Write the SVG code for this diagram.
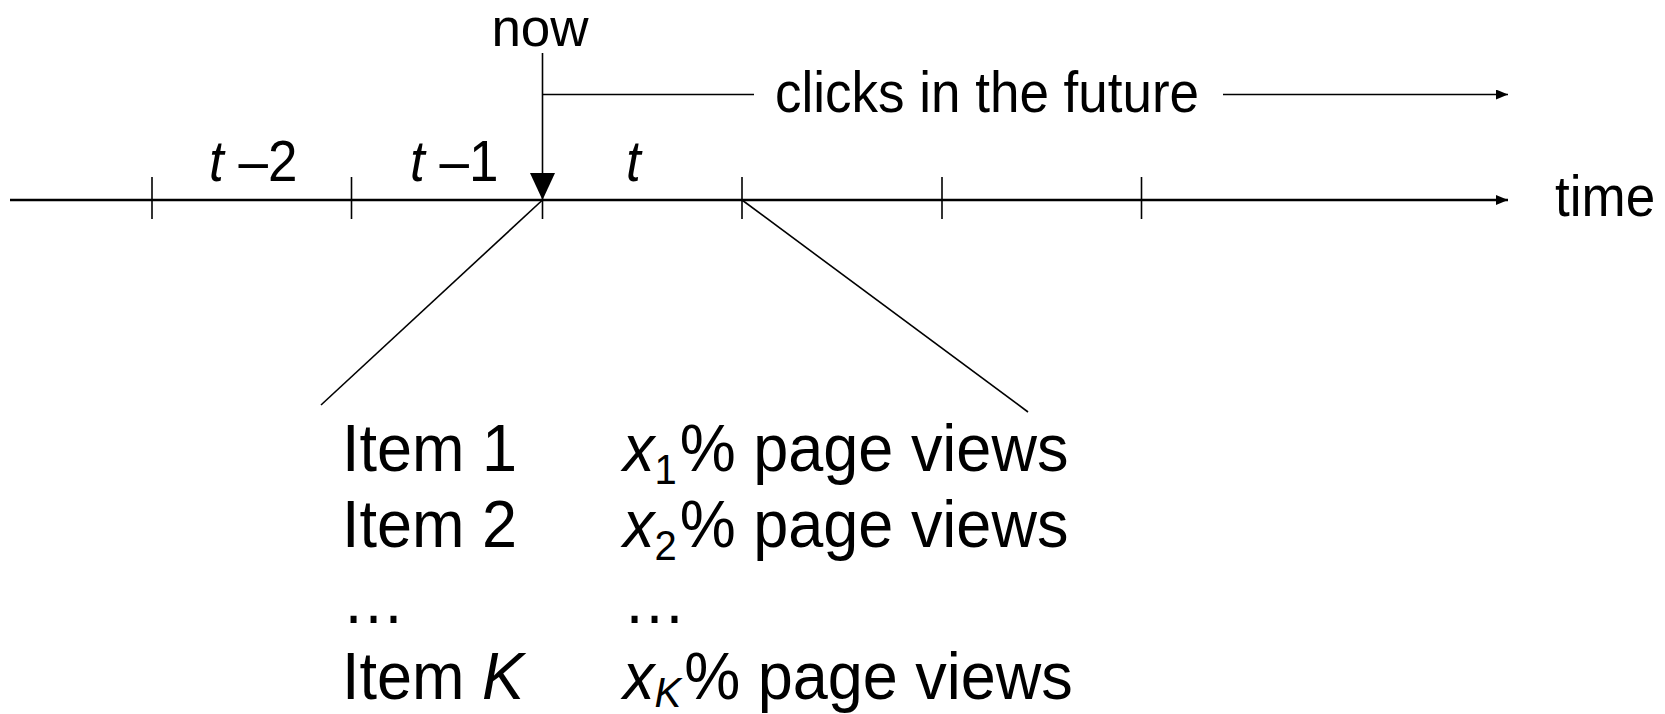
<svg xmlns="http://www.w3.org/2000/svg" width="1665" height="714" viewBox="0 0 1665 714">
  <style>
    text { font-family: "Liberation Sans", Arial, Helvetica, sans-serif; fill: #000; }
    .lbl { font-size: 53px; }
    .item { font-size: 63px; }
    .sub { font-size: 40px; }
    .it { font-style: italic; }
    .thin { stroke: #000; stroke-width: 1.6; fill: none; }
    .axis { stroke: #000; stroke-width: 2.6; fill: none; }
  </style>
  <defs>
    <marker id="arr" markerUnits="userSpaceOnUse" markerWidth="12" markerHeight="10" refX="12" refY="5" orient="auto">
      <path d="M0,0 L12,5 L0,10 z" fill="#000"/>
    </marker>
  </defs>
  <rect width="1665" height="714" fill="#fff"/>

  <g id="connectors">
    <line id="time-axis" class="axis" x1="10" y1="200" x2="1508" y2="200" marker-end="url(#arr)"/>
    <g id="ticks" class="thin">
      <line x1="152" y1="177" x2="152" y2="219"/>
      <line x1="351.5" y1="177" x2="351.5" y2="219"/>
      <line x1="542.5" y1="177" x2="542.5" y2="219"/>
      <line x1="742" y1="177" x2="742" y2="219"/>
      <line x1="942" y1="177" x2="942" y2="219"/>
      <line x1="1141.5" y1="177" x2="1141.5" y2="219"/>
    </g>
    <line id="now-arrow" class="thin" x1="542.5" y1="53" x2="542.5" y2="175"/>
    <polygon points="530,173 555,173 542.5,200" fill="#000"/>
    <line class="thin" x1="542.5" y1="94.5" x2="754" y2="94.5"/>
    <line class="thin" x1="1223" y1="94.5" x2="1508" y2="94.5" marker-end="url(#arr)"/>
    <line class="thin" x1="542.5" y1="200" x2="321" y2="405"/>
    <line class="thin" x1="742" y1="200" x2="1028" y2="412"/>
  </g>

  <g id="now-label"><text class="lbl" x="540" y="46" text-anchor="middle">now</text></g>
  <g id="future-label"><text class="lbl" transform="translate(775,111.5) scale(1,1.07)">clicks in the future</text></g>
  <g id="time-label"><text class="lbl" transform="translate(1555,216) scale(1,1.07)">time</text></g>
  <g id="interval-labels">
    <text class="lbl" transform="translate(209,181) scale(1,1.07)"><tspan class="it">t</tspan> –2</text>
    <text class="lbl" transform="translate(410,181) scale(1,1.07)"><tspan class="it">t</tspan> –1</text>
    <text class="lbl" transform="translate(626,181) scale(1,1.07)"><tspan class="it">t</tspan></text>
  </g>
  <g id="items">
    <text class="item" transform="translate(342,470.5) scale(1,1.07)">Item 1</text>
    <text class="item" transform="translate(342,546.5) scale(1,1.07)">Item 2</text>
    <text class="item" transform="translate(342,622.5) scale(1,1.07)">…</text>
    <text class="item" transform="translate(342,698.5) scale(1,1.07)">Item <tspan class="it">K</tspan></text>
  </g>
  <g id="views">
    <text class="item" transform="translate(623,470.5) scale(1,1.07)"><tspan class="it">x</tspan><tspan class="sub" dy="13">1</tspan><tspan dx="3" dy="-13">% page views</tspan></text>
    <text class="item" transform="translate(623,546.5) scale(1,1.07)"><tspan class="it">x</tspan><tspan class="sub" dy="13">2</tspan><tspan dx="3" dy="-13">% page views</tspan></text>
    <text class="item" transform="translate(623,622.5) scale(1,1.07)">…</text>
    <text class="item" transform="translate(623,698.5) scale(1,1.07)"><tspan class="it">x</tspan><tspan class="sub it" dy="8">K</tspan><tspan dx="3" dy="-8">% page views</tspan></text>
  </g>
</svg>
